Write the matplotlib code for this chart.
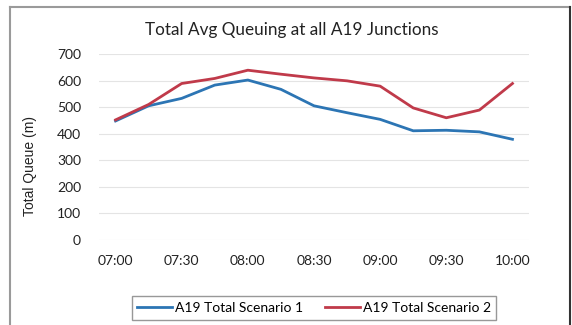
import matplotlib
matplotlib.use("Agg")
import matplotlib.pyplot as plt
from matplotlib.lines import Line2D

plt.rcParams['font.family'] = ['Lato', 'DejaVu Sans']

times = ["07:00", "07:15", "07:30", "07:45", "08:00", "08:15", "08:30",
         "08:45", "09:00", "09:15", "09:30", "09:45", "10:00"]
scenario_1 = [448, 505, 533, 583, 602, 567, 505, 479, 454, 411, 413, 407, 379]
scenario_2 = [452, 510, 589, 608, 639, 624, 610, 599, 579, 497, 460, 489, 589]
y_ticks = [0, 100, 200, 300, 400, 500, 600, 700]

blue = "#2c75b4"
red = "#c03a4a"

fig = plt.figure(figsize=(5.72, 3.25), dpi=100)
ax = fig.add_axes([99 / 572, 1 - 240 / 325, 430 / 572, 186 / 325])

x = list(range(len(times)))
ax.plot(x, scenario_1, color=blue, lw=2.0, label="A19 Total Scenario 1", solid_joinstyle="round")
ax.plot(x, scenario_2, color=red, lw=2.0, label="A19 Total Scenario 2", solid_joinstyle="round")

ax.set_xlim(-0.5, len(times) - 0.5)
ax.set_ylim(0, 700)
ax.set_yticks(y_ticks)
ax.set_xticks(x[::2])
ax.set_xticklabels(times[::2])
ax.grid(axis="y", color="#e4e4e4", lw=0.8)
ax.set_axisbelow(True)
for s in ax.spines.values():
    s.set_visible(False)
ax.tick_params(length=0, labelsize=10, colors="#222222")
ax.tick_params(axis="x", pad=11)
ax.tick_params(axis="y", pad=13)

fig.text(30 / 572, 1 - 166 / 325, "Total Queue (m)", rotation=90,
         ha="center", va="center", fontsize=10, color="#222222",
         family=["Liberation Sans", "DejaVu Sans"])
fig.text(292 / 572, 1 - 30 / 325, "Total Avg Queuing at all A19 Junctions",
         ha="center", va="center", fontsize=12.3, color="#222222")

leg = fig.legend(loc="center", bbox_to_anchor=(314 / 572, 1 - 308 / 325),
                 ncol=2, frameon=True, fancybox=False, fontsize=10,
                 handlelength=2.5, handletextpad=0.2, columnspacing=1.6,
                 borderpad=0.4, borderaxespad=0)
leg.get_frame().set_edgecolor("#7f7f7f")
leg.get_frame().set_linewidth(1.0)

# Outer chart border
fig.add_artist(Line2D([10 / 572, 10 / 572], [0, 1 - 7 / 325], color="#9a9a9a", lw=1.5))
fig.add_artist(Line2D([10 / 572, 570 / 572], [1 - 7 / 325, 1 - 7 / 325], color="#9a9a9a", lw=1.5))
fig.add_artist(Line2D([570 / 572, 570 / 572], [0, 1 - 7 / 325], color="#333333", lw=1.5))

fig.savefig("out.png", dpi=100)
